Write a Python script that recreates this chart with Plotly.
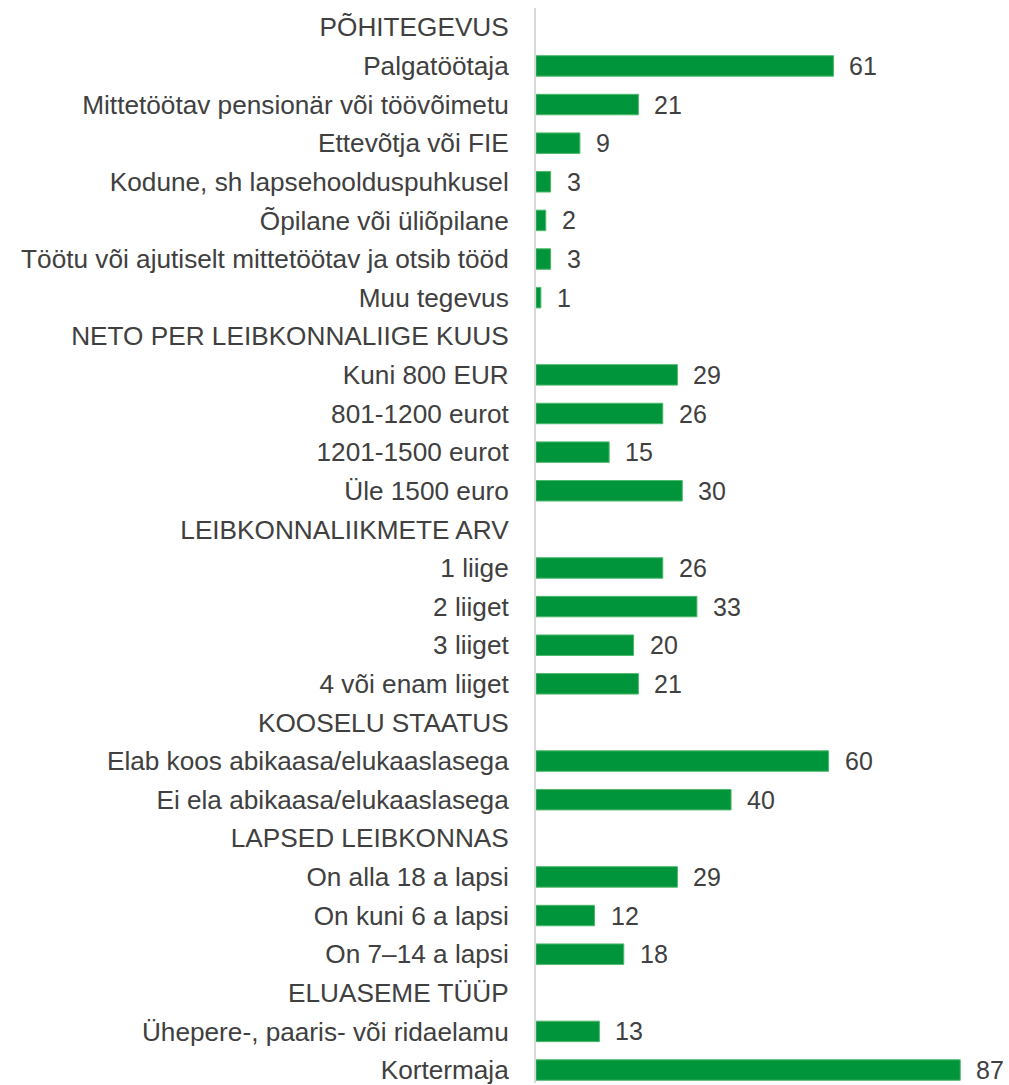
import plotly.graph_objects as go

categories = [
    "PÕHITEGEVUS",
    "Palgatöötaja",
    "Mittetöötav pensionär või töövõimetu",
    "Ettevõtja või FIE",
    "Kodune, sh lapsehoolduspuhkusel",
    "Õpilane või üliõpilane",
    "Töötu või ajutiselt mittetöötav ja otsib tööd",
    "Muu tegevus",
    "NETO PER LEIBKONNALIIGE KUUS",
    "Kuni 800 EUR",
    "801-1200 eurot",
    "1201-1500 eurot",
    "Üle 1500 euro",
    "LEIBKONNALIIKMETE ARV",
    "1 liige",
    "2 liiget",
    "3 liiget",
    "4 või enam liiget",
    "KOOSELU STAATUS",
    "Elab koos abikaasa/elukaaslasega",
    "Ei ela abikaasa/elukaaslasega",
    "LAPSED LEIBKONNAS",
    "On alla 18 a lapsi",
    "On kuni 6 a lapsi",
    "On 7–14 a lapsi",
    "ELUASEME TÜÜP",
    "Ühepere-, paaris- või ridaelamu",
    "Kortermaja",
]
values = [
    None, 61, 21, 9, 3, 2, 3, 1,
    None, 29, 26, 15, 30,
    None, 26, 33, 20, 21,
    None, 60, 40,
    None, 29, 12, 18,
    None, 13, 87,
]

positions = list(range(len(categories)))

FONT = "Liberation Sans, Arial, sans-serif"
TXT = "#404040"

fig = go.Figure()
fig.add_trace(go.Bar(
    y=positions,
    x=values,
    orientation="h",
    width=0.53,
    marker=dict(color="#00953A", line=dict(color="#4CB86A", width=1)),
    hoverinfo="skip",
))

annotations = []
for p, v in zip(positions, values):
    if v is None:
        continue
    annotations.append(dict(
        x=v, y=p, xref="x", yref="y", text=str(v),
        showarrow=False, xanchor="left", yanchor="middle",
        xshift=14, yshift=0,
        font=dict(family=FONT, size=25, color=TXT),
    ))

fig.update_layout(
    width=1009, height=1085,
    margin=dict(l=536, r=0, t=8, b=0),
    paper_bgcolor="white", plot_bgcolor="white",
    showlegend=False,
    annotations=annotations,
    xaxis=dict(range=[0, 97], visible=False, fixedrange=True),
    yaxis=dict(
        tickmode="array", tickvals=positions, ticktext=categories,
        range=[27.336, -0.5],
        showline=True, linecolor="#D9D9D9", linewidth=2,
        ticks="", ticklabelstandoff=20, ticklabeloverflow="allow",
        tickfont=dict(family=FONT, size=26.2, color=TXT),
        showgrid=False, zeroline=False, fixedrange=True,
    ),
)

fig.write_html(
    "out.html",
    config={"displayModeBar": False, "staticPlot": True},
    post_script="document.body.style.margin='0';document.body.style.overflow='hidden';",
)
